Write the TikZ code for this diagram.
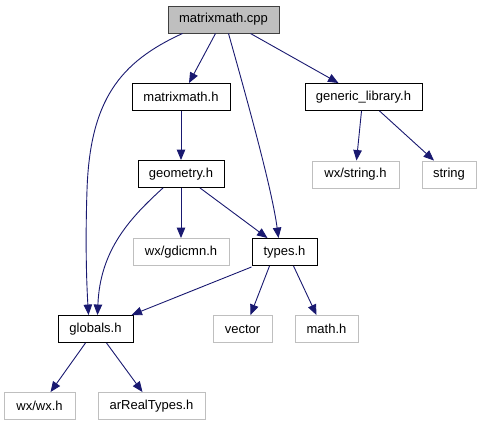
\documentclass[tikz,border=0pt]{standalone}
\usepackage{fontspec}
\setmainfont{Liberation Sans}
\usetikzlibrary{arrows.meta}
\definecolor{edgec}{HTML}{191970}
\definecolor{lgray}{HTML}{BFBFBF}
\definecolor{dgray}{HTML}{404040}
\begin{document}
\begin{tikzpicture}[x=1bp,y=-1bp,
  every node/.style={font=\fontsize{13bp}{15bp}\selectfont, inner sep=0pt, minimum height=27bp, anchor=center},
  box/.style={draw=black, line width=0.9bp},
  ext/.style={draw=lgray, line width=0.9bp},
  root/.style={draw=dgray, fill=lgray, line width=1bp},
  dep/.style={draw=edgec, line width=0.9bp, -{Triangle[length=10.5bp,width=8.5bp]}}
]
\useasboundingbox (0,0) rectangle (481,427);
\node[root, minimum width=111bp] (cpp) at (223.5,19.5) {matrixmath.cpp};
\node[box, minimum width=98bp] (mh) at (181,97) {matrixmath.h};
\node[box, minimum width=117bp] (gl) at (363.5,97) {generic\_library.h};
\node[box, minimum width=86bp] (geo) at (181,174) {geometry.h};
\node[ext, minimum width=87bp] (wxs) at (355.5,174.5) {wx/string.h};
\node[ext, minimum width=54bp] (str) at (449,174.5) {string};
\node[ext, minimum width=96bp] (gdi) at (181,252) {wx/gdicmn.h};
\node[box, minimum width=65bp] (types) at (284.5,252) {types.h};
\node[box, minimum width=75bp] (glob) at (95.5,329) {globals.h};
\node[ext, minimum width=59bp] (vec) at (242.5,329) {vector};
\node[ext, minimum width=63bp] (math) at (326.5,329) {math.h};
\node[ext, minimum width=71bp] (wxwx) at (39.5,406) {wx/wx.h};
\node[ext, minimum width=107bp] (art) at (151.5,406) {arRealTypes.h};

\draw[dep] ([xshift=-8bp]cpp.south) -- ([xshift=8bp]mh.north);
\draw[dep] ([xshift=5bp]cpp.south) .. controls (250,110) and (272,190) .. ([xshift=-6bp]types.north);
\draw[dep] ([xshift=27bp]cpp.south) -- ([xshift=-25bp]gl.north);
\draw[dep] ([xshift=-41bp]cpp.south) .. controls (120,62) and (90,100) .. (87,190) .. controls (85,250) and (87,290) .. ([xshift=-7bp]glob.north);
\draw[dep] (mh.south) -- (geo.north);
\draw[dep] ([xshift=-2bp]gl.south) -- ([xshift=1bp]wxs.north);
\draw[dep] ([xshift=16bp]gl.south) -- ([xshift=-15bp]str.north);
\draw[dep] (geo.south) -- (gdi.north);
\draw[dep] ([xshift=19bp]geo.south) -- ([xshift=-17bp]types.north);
\draw[dep] ([xshift=-18bp]geo.south) .. controls (130,218) and (100,250) .. ([xshift=2bp]glob.north);
\draw[dep] ([yshift=-1bp]types.south west) -- ([xshift=36bp]glob.north);
\draw[dep] ([xshift=-15bp]types.south) -- ([xshift=8bp]vec.north);
\draw[dep] ([xshift=9bp]types.south) -- ([xshift=-10bp]math.north);
\draw[dep] ([xshift=-10bp]glob.south) -- ([xshift=11bp]wxwx.north);
\draw[dep] ([xshift=11bp]glob.south) -- ([xshift=-9bp]art.north);
\end{tikzpicture}
\end{document}
